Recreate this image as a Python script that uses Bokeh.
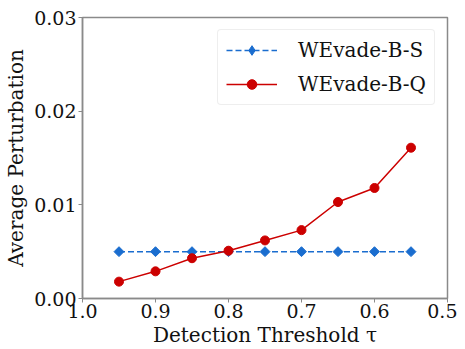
import numpy as np
from bokeh.plotting import figure
from bokeh.models import Range1d, FixedTicker, NumeralTickFormatter, Legend, LegendItem
from bokeh.embed import file_html
from bokeh.resources import INLINE

thresholds = [0.95, 0.90, 0.85, 0.80, 0.75, 0.70, 0.65, 0.60, 0.55]
wevade_b_s = [0.0050, 0.0050, 0.0050, 0.0050, 0.0050, 0.0050, 0.0050, 0.0050, 0.0050]
wevade_b_q = [0.0018, 0.0029, 0.0043, 0.0051, 0.0062, 0.0073, 0.0103, 0.0118, 0.0161]
x_ticks = [1.0, 0.9, 0.8, 0.7, 0.6, 0.5]
y_ticks = [0.00, 0.01, 0.02, 0.03]

FONT = "DejaVu Serif"
BLUE = "#1a6dcf"
RED = "#cc0000"
GRAY = "#8a8a8a"
TXT = "#111111"

p = figure(width=457, height=349, output_backend="svg", toolbar_location=None,
           x_range=Range1d(1.0, 0.5), y_range=Range1d(0.0, 0.03),
           min_border_left=82, min_border_right=10, min_border_top=17, min_border_bottom=50)
# off-screen range used only to host legend glyph renderers
p.extra_y_ranges = {"legend_only": Range1d(1000, 1001)}

p.xgrid.visible = False
p.ygrid.visible = False
p.outline_line_color = GRAY
p.outline_line_width = 1.5

l1 = p.line(thresholds, wevade_b_s, line_color=BLUE, line_width=1.5, line_dash="6 3")
m1 = p.scatter(thresholds, wevade_b_s, marker="square", angle=np.pi / 4, size=7,
               fill_color=BLUE, line_color=BLUE)
l2 = p.line(thresholds, wevade_b_q, line_color=RED, line_width=1.5)
m2 = p.scatter(thresholds, wevade_b_q, marker="circle", size=9,
               fill_color=RED, line_color=RED)

lg1 = p.scatter(thresholds, wevade_b_s, marker="diamond", size=10, fill_color=BLUE,
                line_color=BLUE, y_range_name="legend_only")
lg2 = p.scatter(thresholds, wevade_b_q, marker="circle", size=7, fill_color=RED,
                line_color=RED, y_range_name="legend_only")

for ax in (p.xaxis[0], p.yaxis[0]):
    ax.axis_line_color = GRAY
    ax.axis_line_width = 1.5
    ax.major_tick_line_color = GRAY
    ax.major_tick_out = 4
    ax.major_tick_in = 0
    ax.minor_tick_line_color = None
    ax.major_label_text_font = FONT
    ax.major_label_text_font_size = "19px"
    ax.major_label_text_color = TXT
    ax.axis_label_text_font = FONT
    ax.axis_label_text_font_size = "20px"
    ax.axis_label_text_font_style = "normal"
    ax.axis_label_text_color = TXT

p.xaxis.ticker = FixedTicker(ticks=x_ticks)
p.yaxis.ticker = FixedTicker(ticks=y_ticks)
p.xaxis.formatter = NumeralTickFormatter(format="0.0")
p.yaxis.formatter = NumeralTickFormatter(format="0.00")
p.xaxis.axis_label = "Detection Threshold τ"
p.yaxis.axis_label = "Average Perturbation"
p.xaxis.major_label_standoff = 1
p.xaxis.axis_label_standoff = 2
p.yaxis.major_label_standoff = 2
p.yaxis.axis_label_standoff = 3

legend = Legend(items=[LegendItem(label="WEvade-B-S", renderers=[l1, lg1]),
                       LegendItem(label="WEvade-B-Q", renderers=[l2, lg2])],
                location="top_right")
legend.margin = 12
legend.padding = 8
legend.spacing = 10
legend.glyph_width = 51
legend.glyph_height = 24
legend.label_height = 24
legend.label_standoff = 21
legend.label_text_font = FONT
legend.label_text_font_size = "20px"
legend.label_text_color = TXT
legend.border_line_color = "#dddddd"
legend.border_line_width = 1
legend.border_radius = 4
legend.background_fill_alpha = 0.9
p.add_layout(legend)

open("out.html", "w").write(file_html(p, INLINE))
